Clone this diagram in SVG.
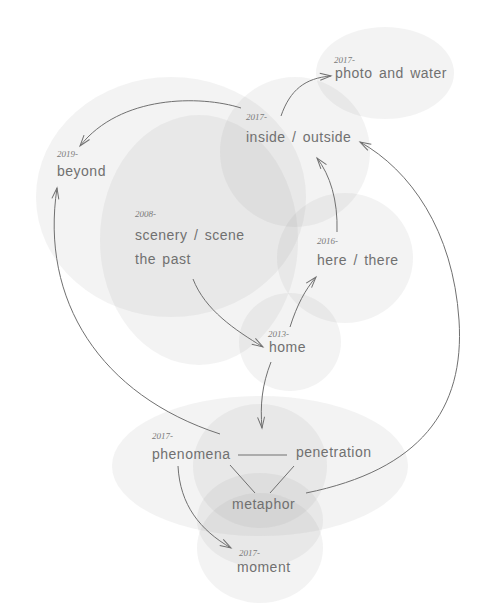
<svg xmlns="http://www.w3.org/2000/svg" width="500" height="615" viewBox="0 0 500 615">
<defs>
<style>
.bg{fill:#8c8c8c;fill-opacity:0.1}
.lbl{font-family:"Liberation Sans",Arial,sans-serif;font-size:14px;fill:#707070;letter-spacing:0.5px;word-spacing:2px}
.yr{font-family:"Liberation Serif","Times New Roman",serif;font-style:italic;font-size:9px;fill:#7a7a7a}
.c{fill:none;stroke:#707070;stroke-width:1}
</style>
<marker id="ah" viewBox="-12 -5 14 10" refX="0" refY="0" markerWidth="14" markerHeight="10" markerUnits="userSpaceOnUse" orient="auto">
<path d="M-11,-3.5 L0,0 L-11,3.5" fill="none" stroke="#707070" stroke-width="1"/>
</marker>
</defs>
<rect width="500" height="615" fill="#fff"/>
<g id="bubbles">
<ellipse class="bg" cx="171" cy="197" rx="135" ry="120"/>
<ellipse class="bg" cx="199" cy="240" rx="99" ry="125"/>
<ellipse class="bg" cx="295" cy="152" rx="75" ry="75"/>
<ellipse class="bg" cx="385" cy="73" rx="69" ry="46"/>
<ellipse class="bg" cx="345" cy="258" rx="68" ry="65"/>
<ellipse class="bg" cx="290" cy="342" rx="51" ry="49"/>
<ellipse class="bg" cx="260" cy="466" rx="148" ry="70"/>
<ellipse class="bg" cx="260" cy="466" rx="67" ry="62"/>
<ellipse class="bg" cx="260" cy="520" rx="63" ry="47"/>
<ellipse class="bg" cx="260" cy="548" rx="63" ry="55"/>
</g>
<g id="connectors">
<path class="c" d="M241,108 C200,95 120,95 80,146" marker-end="url(#ah)"/>
<path class="c" d="M281,116 C290,90 305,78 331,76" marker-end="url(#ah)"/>
<path class="c" d="M337,232 C338,200 330,175 317,158" marker-end="url(#ah)"/>
<path class="c" d="M193,279 C205,310 235,330 263,347" marker-end="url(#ah)"/>
<path class="c" d="M290,327 C297,305 305,290 316,277" marker-end="url(#ah)"/>
<path class="c" d="M271,362 C262,385 260,405 262,428" marker-end="url(#ah)"/>
<path class="c" d="M220,434 C100,395 40,300 57,188" marker-end="url(#ah)"/>
<path class="c" d="M306,493 C420,470 465,410 459,320 C453,230 410,170 360,142" marker-end="url(#ah)"/>
<path class="c" d="M178,466 C180,505 200,530 231,548" marker-end="url(#ah)"/>
<path class="c" d="M238,455 L287,455"/>
<path class="c" d="M230,465 L255,493"/>
<path class="c" d="M294,466 L270,493"/>
</g>
<g id="photo-and-water"><text class="yr" x="334" y="63">2017-</text><text class="lbl" x="335" y="78">photo and water</text></g>
<g id="inside-outside"><text class="yr" x="246" y="120">2017-</text><text class="lbl" x="246" y="142">inside / outside</text></g>
<g id="beyond"><text class="yr" x="57" y="157">2019-</text><text class="lbl" x="57" y="176">beyond</text></g>
<g id="scenery"><text class="yr" x="135" y="217">2008-</text><text class="lbl" x="135" y="240">scenery / scene</text><text class="lbl" x="135" y="264">the past</text></g>
<g id="here-there"><text class="yr" x="317" y="244">2016-</text><text class="lbl" x="317" y="265">here / there</text></g>
<g id="home"><text class="yr" x="268" y="337">2013-</text><text class="lbl" x="269" y="352">home</text></g>
<g id="phenomena"><text class="yr" x="152" y="439">2017-</text><text class="lbl" x="152" y="459">phenomena</text></g>
<g id="penetration"><text class="lbl" x="296" y="457">penetration</text></g>
<g id="metaphor"><text class="lbl" x="232" y="509">metaphor</text></g>
<g id="moment"><text class="yr" x="239" y="556">2017-</text><text class="lbl" x="237" y="572">moment</text></g>
</svg>
